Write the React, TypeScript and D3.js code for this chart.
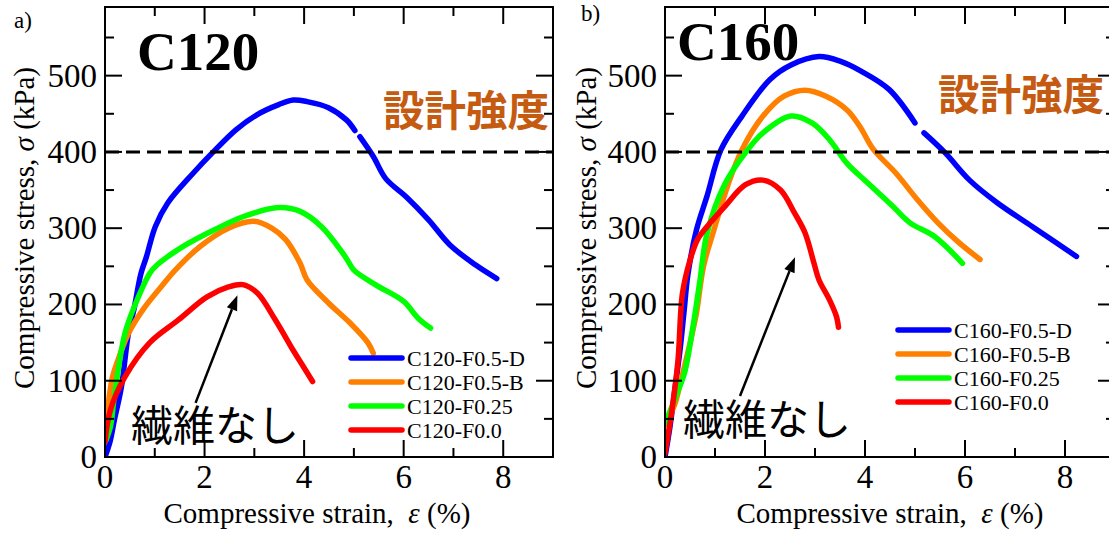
import React from 'react';
import * as d3 from 'd3';

type Pt = [number, number] | null;

// axis ticks
const xMajorTicks = [0, 2, 4, 6, 8];
const xMinorTicks = [1, 3, 5, 7];
const yMajorTicks = [0, 100, 200, 300, 400, 500];
const yMinorTicks = [50, 150, 250, 350, 450, 550];
const designStrength = 400;

const seriesColors = ['#0000ff', '#ff8000', '#00ff00', '#ff0000'];
const c120Labels = ['C120-F0.5-D', 'C120-F0.5-B', 'C120-F0.25', 'C120-F0.0'];
const c160Labels = ['C160-F0.5-D', 'C160-F0.5-B', 'C160-F0.25', 'C160-F0.0'];

// C120 curves: [strain %, stress kPa], null = break in the record
const c120F05D: Pt[] = [
  [0, 0], [0.1, 20], [0.19, 49], [0.33, 92], [0.47, 162], [0.58, 193], [0.72, 240],
  [0.83, 262], [1.01, 302], [1.26, 333], [1.77, 372], [2.16, 399], [2.63, 429],
  [3.06, 449], [3.49, 462], [3.78, 468], [4.06, 466], [4.49, 458], [4.85, 442],
  [5.02, 428], null, [5.12, 420], [5.39, 394], [5.64, 365], [6.07, 340], [6.5, 311],
  [6.93, 278], [7.44, 252], [7.87, 234],
];
const c120F05B: Pt[] = [
  [0, 20], [0.05, 60], [0.15, 105], [0.26, 127], [0.47, 162], [0.76, 193], [1.19, 228],
  [1.41, 245], [1.91, 276], [2.48, 300], [2.99, 309], [3.35, 300], [3.63, 285],
  [3.92, 254], [4.06, 232], [4.49, 202], [4.92, 176], [5.28, 150], [5.39, 136],
];
const c120F025: Pt[] = [
  [0.02, 22], [0.11, 40], [0.18, 75], [0.4, 162], [0.62, 202], [0.9, 241], [1.05, 252],
  [1.62, 278], [2.2, 298], [2.77, 315], [3.49, 327], [3.92, 322], [4.35, 302],
  [4.78, 267], [4.89, 256], [5.0, 245], [5.43, 226], [6.0, 204], [6.29, 182], [6.54, 169],
];
const c120F00: Pt[] = [
  [0, 20], [0.11, 62], [0.4, 105], [0.9, 150], [1.48, 180], [2.05, 210], [2.48, 223],
  [2.77, 226], [3.06, 215], [3.42, 180], [3.78, 140], [3.99, 118], [4.17, 99],
];

// C160 curves
const c160F05D: Pt[] = [
  [0, 0], [0.1, 40], [0.2, 90], [0.3, 140], [0.38, 190], [0.46, 240], [0.63, 298],
  [0.84, 342], [1.12, 403], [1.54, 447], [2.1, 495], [2.52, 514], [3.08, 525],
  [3.5, 519], [3.92, 506], [4.48, 482], [5.0, 438], null, [5.18, 425], [5.6, 399],
  [6.09, 363], [6.65, 333], [7.35, 302], [8.23, 263],
];
const c160F05B: Pt[] = [
  [0, 42], [0.1, 55], [0.2, 70], [0.3, 95], [0.42, 127], [0.52, 155], [0.63, 189],
  [0.77, 250], [0.98, 298], [1.26, 357], [1.54, 403], [1.96, 447], [2.38, 473],
  [2.8, 481], [3.22, 473], [3.64, 455], [3.9, 433], [4.16, 404], [4.62, 372],
  [5.04, 338], [5.46, 307], [5.88, 281], [6.3, 259],
];
const c160F025: Pt[] = [
  [0, 45], [0.1, 60], [0.25, 85], [0.39, 110], [0.56, 171], [0.7, 232], [0.84, 293],
  [1.19, 357], [1.61, 399], [1.96, 425], [2.52, 447], [2.94, 438], [3.29, 416],
  [3.64, 385], [4.06, 359], [4.55, 329], [4.9, 307], [5.39, 289], [5.95, 254],
];
const c160F00: Pt[] = [
  [0, 5], [0.14, 62], [0.26, 127], [0.35, 215], [0.5, 258], [0.65, 285], [0.84, 302],
  [1.19, 328], [1.61, 357], [1.96, 363], [2.31, 350], [2.59, 320], [2.8, 294],
  [2.98, 254], [3.08, 232], [3.29, 206], [3.43, 184], [3.47, 170],
];

// arrow to the no-fibre curve: [tail, tip] in data units
const c120Arrow: [number, number][] = [[1.82, 71], [2.66, 212]];
const c160Arrow: [number, number][] = [[1.5, 80], [2.6, 262]];

const W = 1109;
const H = 533;
const serif = "'Liberation Serif', 'Times New Roman', Times, serif";
const cjk = "'Noto Sans CJK JP', 'Noto Sans', sans-serif";

interface PanelProps {
  id: string;
  left: number;
  right: number;
  tag: string;
  tagPos: [number, number];
  title: string;
  titlePos: [number, number];
  series: Pt[][];
  labels: string[];
  legendPos: [number, number];
  arrow: [number, number][];
  noteStrengthPos: [number, number];
  noFibrePos: [number, number];
  yLabelX: number;
  xLabelX: number;
}

const Panel: React.FC<PanelProps> = (p) => {
  const top = 7;
  const bottom = 457;
  const x = d3.scaleLinear().domain([0, 9]).range([p.left, p.right]);
  const y = d3.scaleLinear().domain([0, 590]).range([bottom, top]);
  const line = d3
    .line<Pt>()
    .defined((d) => d !== null)
    .x((d) => x((d as [number, number])[0]))
    .y((d) => y((d as [number, number])[1]))
    .curve(d3.curveCatmullRom.alpha(0.5));

  const [t0, t1] = p.arrow;
  const ax0 = x(t0[0]);
  const ay0 = y(t0[1]);
  const ax1 = x(t1[0]);
  const ay1 = y(t1[1]);
  const ang = Math.atan2(ay1 - ay0, ax1 - ax0);
  const hl = 15;
  const hw = 5.5;
  const bx = ax1 - hl * Math.cos(ang);
  const by = ay1 - hl * Math.sin(ang);
  const head = `M${ax1},${ay1} L${bx + hw * Math.sin(ang)},${by - hw * Math.cos(ang)} L${bx - hw * Math.sin(ang)},${by + hw * Math.cos(ang)} Z`;

  const major = 17;
  const minor = 9;
  const serifStyle = { fontFamily: serif };

  return (
    <g>
      <defs>
        <clipPath id={`clip-${p.id}`}>
          <rect x={p.left} y={top} width={p.right - p.left} height={bottom - top} />
        </clipPath>
      </defs>

      {/* curves */}
      <g clipPath={`url(#clip-${p.id})`} fill="none" strokeWidth={5.5} strokeLinecap="round" strokeLinejoin="round">
        {p.series.map((s, i) => (
          <path key={i} d={line(s) || ''} stroke={seriesColors[i]} />
        ))}
      </g>

      {/* design strength */}
      <line x1={p.left} x2={p.right} y1={y(designStrength)} y2={y(designStrength)} stroke="#000" strokeWidth={3} strokeDasharray="14,7" />

      {/* frame */}
      <rect x={p.left} y={top} width={p.right - p.left} height={bottom - top} fill="none" stroke="#000" strokeWidth={2} />

      {/* ticks */}
      <g stroke="#000" strokeWidth={2}>
        {xMajorTicks.map((t) => (
          <g key={`xm${t}`}>
            <line x1={x(t)} x2={x(t)} y1={bottom} y2={bottom - major} />
            <line x1={x(t)} x2={x(t)} y1={top} y2={top + major} />
          </g>
        ))}
        {xMinorTicks.map((t) => (
          <g key={`xn${t}`}>
            <line x1={x(t)} x2={x(t)} y1={bottom} y2={bottom - minor} />
            <line x1={x(t)} x2={x(t)} y1={top} y2={top + minor} />
          </g>
        ))}
        {yMajorTicks.map((t) => (
          <g key={`ym${t}`}>
            <line x1={p.left} x2={p.left + major} y1={y(t)} y2={y(t)} />
            <line x1={p.right} x2={p.right - major} y1={y(t)} y2={y(t)} />
          </g>
        ))}
        {yMinorTicks.map((t) => (
          <g key={`yn${t}`}>
            <line x1={p.left} x2={p.left + minor} y1={y(t)} y2={y(t)} />
            <line x1={p.right} x2={p.right - minor} y1={y(t)} y2={y(t)} />
          </g>
        ))}
      </g>

      {/* tick labels */}
      <g fontSize={33} fill="#000">
        {xMajorTicks.map((t) => (
          <text key={`xl${t}`} x={x(t)} y={488} textAnchor="middle" style={serifStyle}>{t}</text>
        ))}
        {yMajorTicks.map((t) => (
          <text key={`yl${t}`} x={p.left - 8} y={y(t) + 11} textAnchor="end" style={serifStyle}>{t}</text>
        ))}
      </g>

      {/* axis titles */}
      <text x={p.xLabelX} y={523} textAnchor="middle" fontSize={29} style={{ ...serifStyle, whiteSpace: 'pre' }}>
        {'Compressive strain,  '}
        <tspan fontStyle="italic">ε</tspan>
        {' (%)'}
      </text>
      <text transform={`translate(${p.yLabelX},${228}) rotate(-90)`} textAnchor="middle" fontSize={29} style={{ ...serifStyle, whiteSpace: 'pre' }}>
        {'Compressive stress, '}
        <tspan fontStyle="italic">σ</tspan>
        {' (kPa)'}
      </text>

      {/* panel tag & title */}
      <text x={p.tagPos[0]} y={p.tagPos[1]} fontSize={23} style={serifStyle}>{p.tag}</text>
      <text x={p.titlePos[0]} y={p.titlePos[1]} fontSize={55} fontWeight="bold" style={serifStyle}>{p.title}</text>

      {/* notes */}
      <text x={p.noteStrengthPos[0]} y={p.noteStrengthPos[1]} fontSize={41.5} fontWeight="bold" fill="#c55a11" style={{ fontFamily: cjk }}>設計強度</text>
      <text x={p.noFibrePos[0]} y={p.noFibrePos[1]} fontSize={42} fill="#000" style={{ fontFamily: cjk }}>繊維なし</text>

      {/* arrow */}
      <line x1={ax0} y1={ay0} x2={bx} y2={by} stroke="#000" strokeWidth={2.5} />
      <path d={head} fill="#000" />

      {/* legend */}
      <g>
        {p.labels.map((lab, i) => {
          const ly = p.legendPos[1] + i * 24;
          return (
            <g key={lab}>
              <line x1={p.legendPos[0]} x2={p.legendPos[0] + 51} y1={ly} y2={ly} stroke={seriesColors[i]} strokeWidth={5.5} strokeLinecap="round" />
              <text x={p.legendPos[0] + 56} y={ly + 8} fontSize={22} style={serifStyle}>{lab}</text>
            </g>
          );
        })}
      </g>
    </g>
  );
};

const App: React.FC = () => {
  return (
    <svg width={W} height={H} style={{ position: 'absolute', left: 0, top: 0, background: '#fff' }}>
      <rect width={W} height={H} fill="#fff" />
      <Panel
        id="c120"
        left={105}
        right={553}
        tag="a)"
        tagPos={[14, 28]}
        title="C120"
        titlePos={[137, 70]}
        series={[c120F05D, c120F05B, c120F025, c120F00]}
        labels={c120Labels}
        legendPos={[351, 358]}
        arrow={c120Arrow}
        noteStrengthPos={[383, 126]}
        noFibrePos={[131, 441]}
        yLabelX={34}
        xLabelX={317}
      />
      <Panel
        id="c160"
        left={665}
        right={1115}
        tag="b)"
        tagPos={[581, 21]}
        title="C160"
        titlePos={[677, 60]}
        series={[c160F05D, c160F05B, c160F025, c160F00]}
        labels={c160Labels}
        legendPos={[898, 330]}
        arrow={c160Arrow}
        noteStrengthPos={[938, 110]}
        noFibrePos={[683, 435]}
        yLabelX={596}
        xLabelX={890}
      />
    </svg>
  );
};

export default App;
